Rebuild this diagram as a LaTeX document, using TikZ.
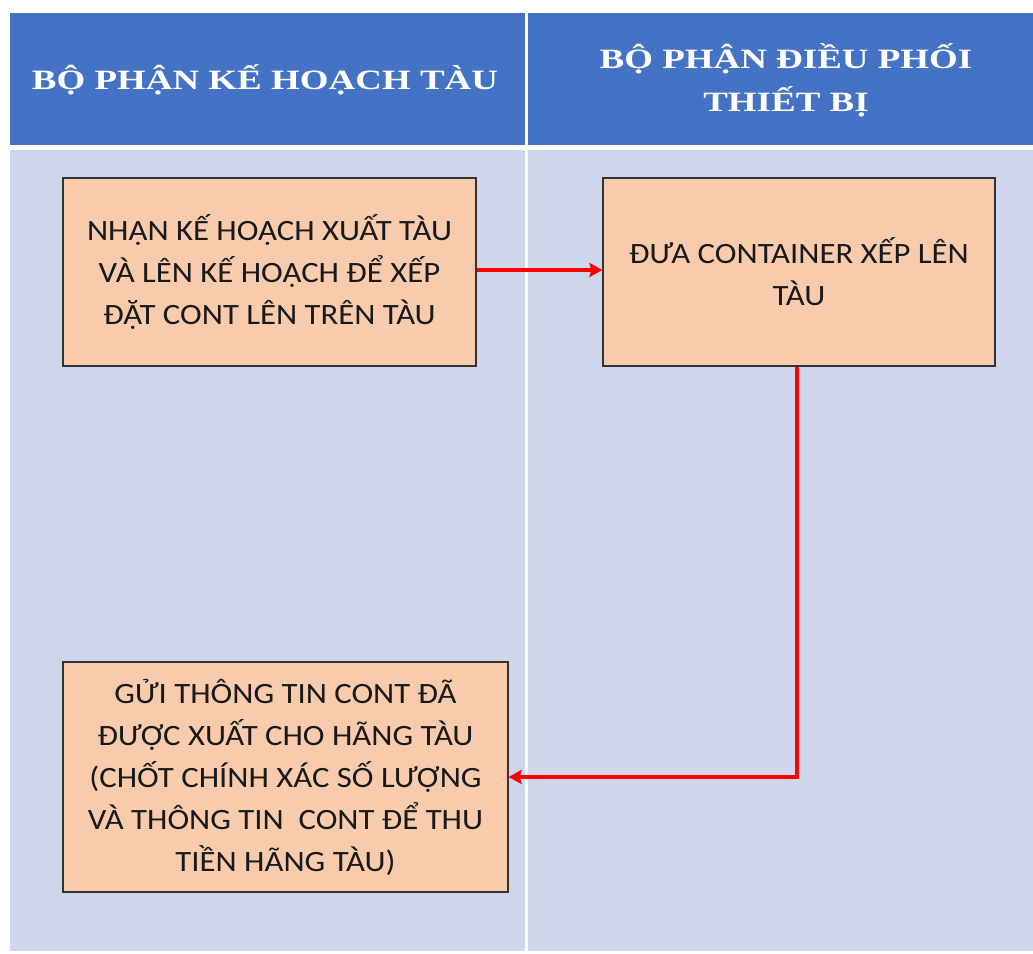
\documentclass[tikz,border=0pt]{standalone}
\usepackage{fontspec}
\setmainfont[FakeStretch=1.11]{Carlito}
\newfontfamily\hdrfont[FakeStretch=1.32]{Liberation Serif}
\usetikzlibrary{arrows.meta}
\definecolor{hdrblue}{HTML}{4472C4}
\definecolor{bodyblue}{HTML}{CFD5EA}
\definecolor{boxfill}{HTML}{F8CBAD}
\definecolor{arrowred}{HTML}{FF0000}
\begin{document}
\begin{tikzpicture}[x=1pt,y=-1pt,
  hdr/.style={fill=hdrblue,draw=none},
  lane/.style={fill=bodyblue,draw=none},
  hdrtext/.style={text=white,font=\hdrfont\bfseries\fontsize{28}{43}\selectfont,align=center},
  procbox/.style={draw=black!80,line width=1.2pt,fill=boxfill,align=center,
    font=\fontsize{29.5}{42}\selectfont,text=black!90,inner sep=0pt},
  flow/.style={draw=arrowred,line width=3.5pt,-{Stealth[length=13pt,width=14pt,inset=2pt]}}]
\useasboundingbox (0,0) rectangle (1033,953);
\fill[white] (0,0) rectangle (1033,953);
% headers
\fill[hdr] (10,13) rectangle (525,145);
\fill[hdr] (528,13) rectangle (1033,145);
% lanes
\fill[lane] (10,150) rectangle (525,951);
\fill[lane] (528,150) rectangle (1033,951);
\node[hdrtext] (h1) at (265,80) {BỘ PHẬN KẾ HOẠCH TÀU};
\node[hdrtext] (h2) at (786,80) {BỘ PHẬN ĐIỀU PHỐI\\THIẾT BỊ};
% boxes
\node[procbox,minimum width=413pt,minimum height=188pt] (b1) at (269.5,272)
  {NHẬN KẾ HOẠCH XUẤT TÀU\\VÀ LÊN KẾ HOẠCH ĐỂ XẾP\\ĐẶT CONT LÊN TRÊN TÀU};
\node[procbox,minimum width=392pt,minimum height=188pt] (b2) at (799,272)
  {ĐƯA CONTAINER XẾP LÊN\\TÀU};
\node[procbox,minimum width=445pt,minimum height=230pt] (b3) at (285.5,777)
  {GỬI THÔNG TIN CONT ĐÃ\\ĐƯỢC XUẤT CHO HÃNG TÀU\\(CHỐT CHÍNH XÁC SỐ LƯỢNG\\VÀ THÔNG TIN\ \ CONT ĐỂ THU\\TIỀN HÃNG TÀU)};
\coordinate (c1) at (797,777);
\draw[flow] (b1.east |- 0,270) -- (b2.west |- 0,270);
\draw[flow] (b2.south -| c1) -- (c1) -- (b3.east |- c1);
\end{tikzpicture}
\end{document}
